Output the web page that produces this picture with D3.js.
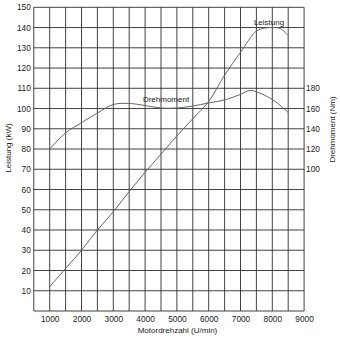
<!DOCTYPE html>
<html>
<head>
<meta charset="utf-8">
<script src="https://cdn.jsdelivr.net/npm/d3@7"></script>
<style>
  html, body { margin: 0; padding: 0; background: #fff; }
  svg { display: block; }
  text { font-family: "Liberation Sans", Arial, Helvetica, sans-serif; fill: #1a1a1a; }
</style>
</head>
<body>
<div id="chart"></div>
<script>
// Engine speed (U/min) and the measured curves
const rpmPower = [1000, 1500, 2000, 2500, 3000, 3500, 4000, 4500, 5000, 5500, 6000, 6500, 7000, 7500, 7750, 8000, 8250, 8500];
const powerKW  = [12, 21, 30, 40, 49, 59, 68.5, 77.5, 86.5, 95, 103.5, 116.5, 127.8, 138.3, 139.7, 140, 139.5, 136];

const rpmTorque = [1000, 1500, 2000, 2500, 3000, 3500, 4000, 4500, 5000, 5500, 6000, 6500, 7000, 7300, 7500, 8000, 8500];
const torqueNm  = [120, 136, 146, 155.5, 164, 165, 163, 160.5, 160.5, 162.5, 165.5, 168.5, 174, 178, 176.5, 169, 156];

// Axis ticks
const rpmTicks = [1000, 2000, 3000, 4000, 5000, 6000, 7000, 8000, 9000];
const kwTicks = [10, 20, 30, 40, 50, 60, 70, 80, 90, 100, 110, 120, 130, 140, 150];
const nmTicks = [100, 120, 140, 160, 180];
const rpmGrid = d3.range(500, 9001, 500);
const kwGrid = d3.range(0, 151, 10);

const W = 340, H = 341;
const svg = d3.select("#chart").append("svg").attr("width", W).attr("height", H);

const x = d3.scaleLinear().domain([500, 9000]).range([33.8, 304.1]);
const y = d3.scaleLinear().domain([0, 150]).range([311, 7.3]);
// Torque axis shares the grid: 0 kW ↔ -40 Nm, 150 kW ↔ 260 Nm
const yNm = d3.scaleLinear().domain([-40, 260]).range([311, 7.3]);

const gridColor = "#2e2e2e";
const g = svg.append("g");

// Grid
g.selectAll("line.v").data(rpmGrid).join("line")
  .attr("x1", d => x(d)).attr("x2", d => x(d))
  .attr("y1", y(0)).attr("y2", y(150))
  .attr("stroke", gridColor).attr("stroke-width", 0.9);
g.selectAll("line.h").data(kwGrid).join("line")
  .attr("x1", x(500)).attr("x2", x(9000))
  .attr("y1", d => y(d)).attr("y2", d => y(d))
  .attr("stroke", gridColor).attr("stroke-width", 0.9);

// Axes (labels only; grid forms the frame)
const fontSize = 8.3;
const axL = svg.append("g").attr("transform", `translate(${x(500)},0)`)
  .call(d3.axisLeft(y).tickValues(kwTicks).tickSize(0).tickPadding(3));
const axB = svg.append("g").attr("transform", `translate(0,${y(0)})`)
  .call(d3.axisBottom(x).tickValues(rpmTicks).tickSize(0).tickPadding(5).tickFormat(d3.format("d")));
const axR = svg.append("g").attr("transform", `translate(${x(9000)},0)`)
  .call(d3.axisRight(yNm).tickValues(nmTicks).tickSize(0).tickPadding(2));
[axL, axB, axR].forEach(a => {
  a.select(".domain").remove();
  a.selectAll("text").attr("font-size", fontSize).attr("fill", "#111")
    .attr("font-family", '"Liberation Sans", Arial, sans-serif');
});

// Curves
const line = d3.line().curve(d3.curveCatmullRom.alpha(0.5));
svg.append("path")
  .attr("d", line(rpmPower.map((r, i) => [x(r), y(powerKW[i])])))
  .attr("fill", "none").attr("stroke", "#666").attr("stroke-width", 1);
svg.append("path")
  .attr("d", line(rpmTorque.map((r, i) => [x(r), yNm(torqueNm[i])])))
  .attr("fill", "none").attr("stroke", "#666").attr("stroke-width", 1);

// Curve labels
svg.append("text").attr("x", 166).attr("y", 102).attr("text-anchor", "middle")
  .attr("font-size", 8).text("Drehmoment");
svg.append("text").attr("x", 269).attr("y", 24.5).attr("text-anchor", "middle")
  .attr("font-size", 8).text("Leistung");

// Axis titles
svg.append("text").attr("x", 177.5).attr("y", 333).attr("text-anchor", "middle")
  .attr("font-size", 8).text("Motordrehzahl (U/min)");
svg.append("text").attr("transform", "translate(10.5,148) rotate(-90)")
  .attr("text-anchor", "middle").attr("font-size", 8).text("Leistung (kW)");
svg.append("text").attr("transform", "translate(334.5,129.5) rotate(-90)")
  .attr("text-anchor", "middle").attr("font-size", 8).text("Drehmoment (Nm)");
</script>
</body>
</html>
